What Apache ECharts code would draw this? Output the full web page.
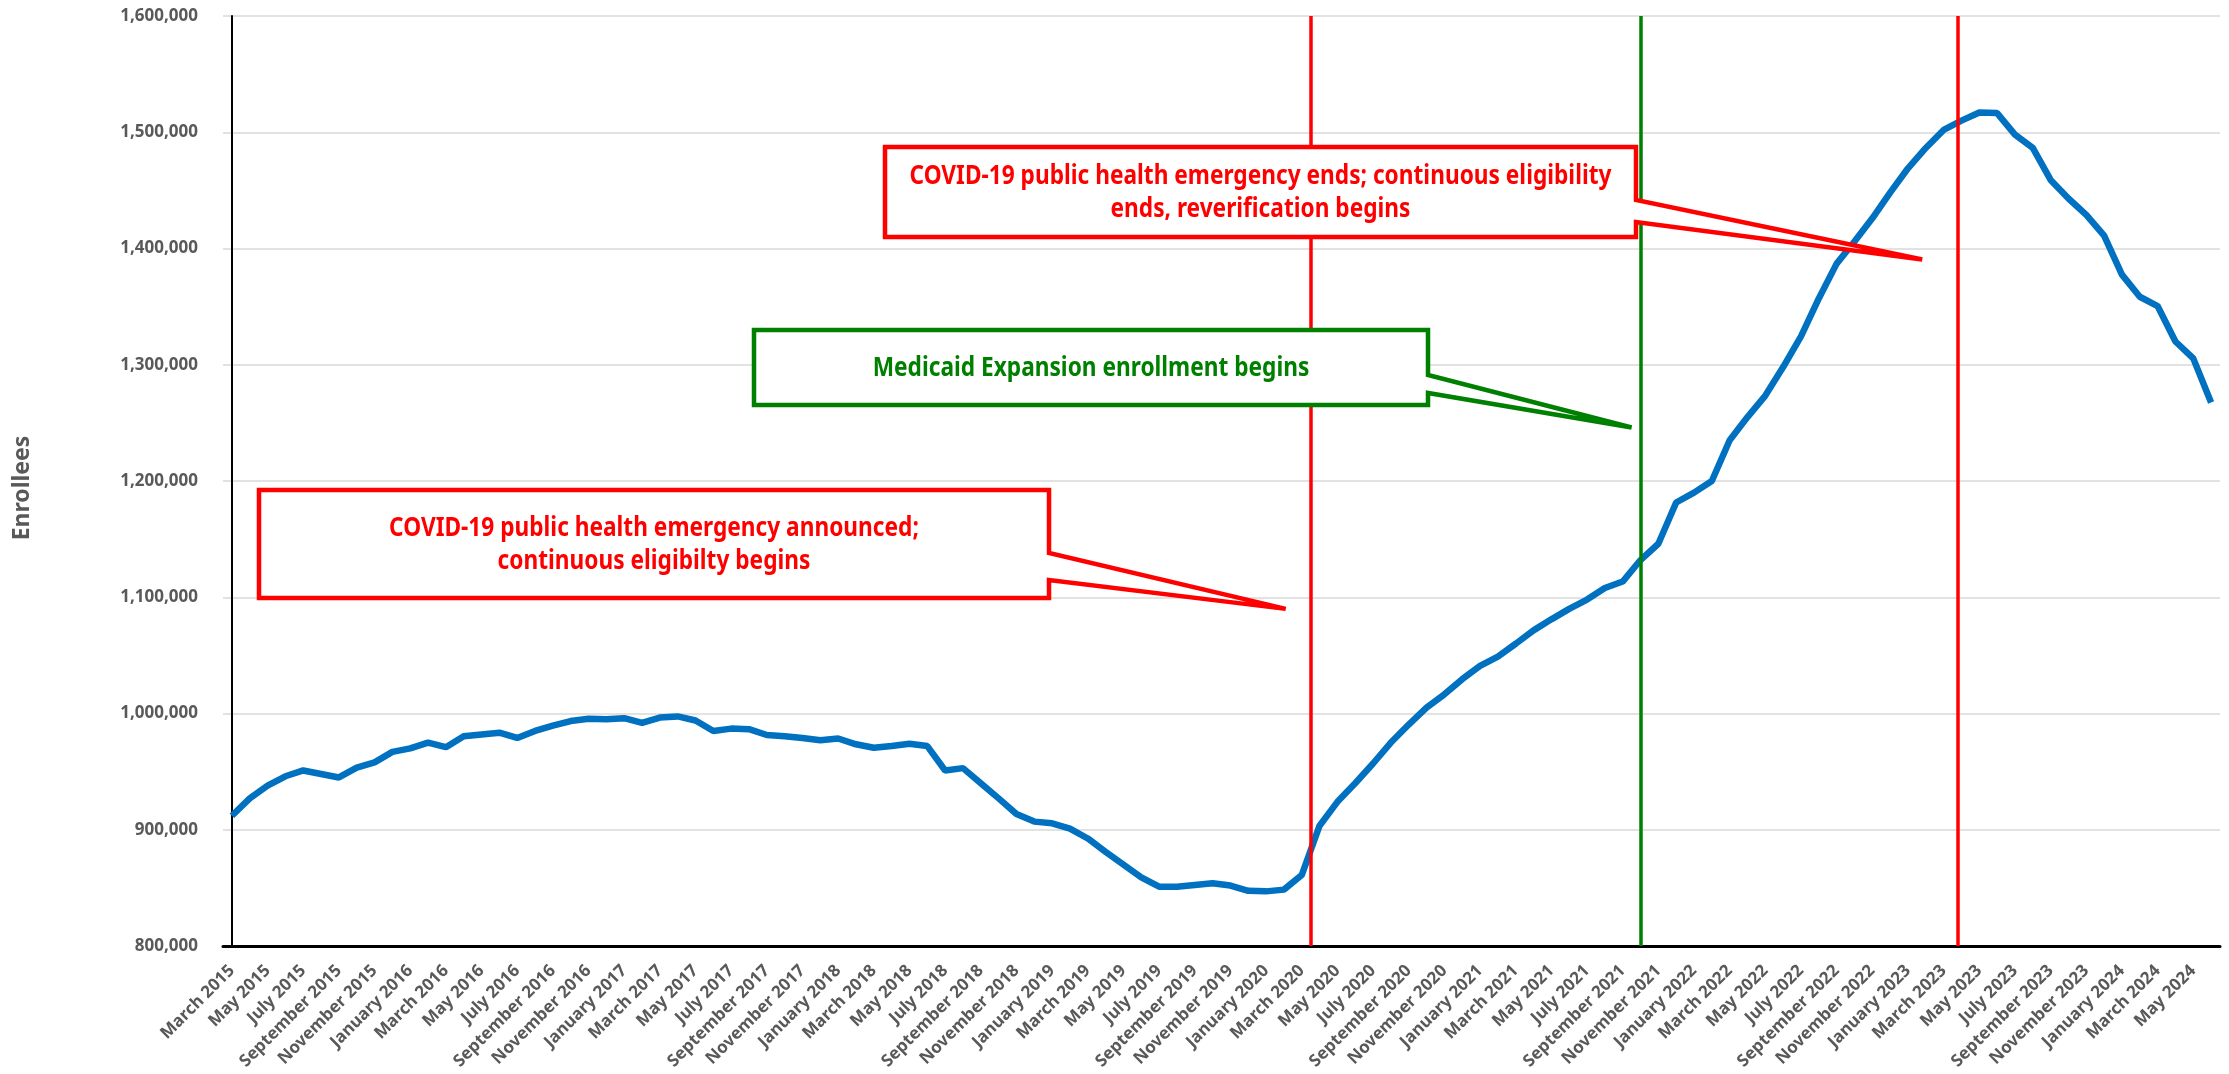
<!DOCTYPE html>
<html>
<head>
<meta charset="utf-8">
<title>Enrollees</title>
<script src="https://cdn.jsdelivr.net/npm/echarts@6.0.0/dist/echarts.min.js"></script>
<style>
  html, body { margin: 0; padding: 0; background: #fff; }
  #chart { width: 2229px; height: 1074px; }
</style>
</head>
<body>
<div id="chart"></div>
<script>
const monthNames = ['January', 'February', 'March', 'April', 'May', 'June', 'July',
  'August', 'September', 'October', 'November', 'December']
const startYear = 2015
const startMonth = 2 // March

// monthly enrollees, March 2015 .. June 2024
const enrollees = [
  912000, 927000, 938000, 946000, 951000, 948000, 945000, 953500, 958000, 967000,
  970000, 975000, 971000, 980500, 982000, 983500, 979000, 985000, 989500, 993500,
  995500, 995000, 996000, 992000, 996500, 997500, 994000, 985000, 987000, 986500,
  981500, 980500, 979000, 977000, 978500, 973500, 970500, 972000, 974000, 972000,
  951000, 953000, 940000, 927000, 913500, 907000, 905500, 901000, 892500, 881000,
  870000, 859000, 851000, 851000, 852500, 854000, 852000, 847500, 847000, 848500,
  861000, 903500, 924000, 940000, 957000, 975000, 990500, 1005000, 1016500, 1029500,
  1041000, 1049000, 1060000, 1071500, 1081000, 1090000, 1098000, 1108000, 1113500, 1132000,
  1146000, 1181500, 1190000, 1200000, 1235000, 1255000, 1273500, 1298000, 1324500, 1357000,
  1387000, 1406000, 1426000, 1448000, 1469000, 1486500, 1502000, 1510000, 1517000, 1516500,
  1498000, 1486500, 1459000, 1443000, 1429000, 1411000, 1377500, 1358500, 1350500, 1320000,
  1305500, 1267500
]

const categories = enrollees.map((_, i) => {
  const m = startMonth + i
  return monthNames[m % 12] + ' ' + (startYear + Math.floor(m / 12))
})

const yMin = 800000
const yMax = 1600000
const yStep = 100000

// event markers, position in months since March 2015
const eventAt = [60.5, 79, 96.8]
const eventColor = ['#FF0000', '#008000', '#FF0000']

// callouts: text, colour, and the point the pointer aims at (month index, enrollees)
const calloutText = [
  'COVID-19 public health emergency announced;\ncontinuous eligibilty begins',
  'Medicaid Expansion enrollment begins',
  'COVID-19 public health emergency ends; continuous eligibility\nends, reverification begins'
]
const calloutColor = ['#FF0000', '#008000', '#FF0000']
const calloutTip = [[59.1, 1090000], [78.5, 1246000], [94.8, 1390500]]

// callout box layout in pixels: [left, top, right, bottom] and neck [top, bottom] on right edge
const calloutBox = [[259, 490, 1049, 598], [754, 330, 1428, 405], [885, 147, 1636, 237]]
const calloutNeck = [[553, 580], [375, 393], [200, 222]]

const fmt = v => v.toLocaleString('en-US')
const gray = '#595959'

const chart = echarts.init(document.getElementById('chart'))

chart.setOption({
  animation: false,
  backgroundColor: '#fff',
  grid: { left: 223, right: 9, top: 16, bottom: 128 },
  xAxis: [{
    type: 'category',
    data: categories,
    boundaryGap: true,
    axisLine: { show: true, lineStyle: { color: '#000', width: 3 } },
    axisTick: { show: false },
    axisLabel: {
      interval: 1,
      rotate: 45,
      margin: 22,
      color: gray,
      fontFamily: 'Noto Sans',
      fontWeight: 'bold',
      fontSize: 17
    },
    splitLine: { show: false }
  }, {
    type: 'value',
    min: -0.5,
    max: enrollees.length - 0.5,
    show: false
  }],
  yAxis: {
    type: 'value',
    min: yMin,
    max: yMax,
    interval: yStep,
    axisLine: { show: true, lineStyle: { color: '#000', width: 2 } },
    axisTick: { show: false },
    axisLabel: {
      formatter: fmt,
      margin: 25,
      color: gray,
      fontFamily: 'Noto Sans',
      fontWeight: 'bold',
      fontSize: 17
    },
    splitLine: { lineStyle: { color: '#D9D9D9', width: 1.5 } }
  },
  series: [{
    name: 'Enrollees',
    type: 'line',
    data: enrollees,
    showSymbol: false,
    lineStyle: { color: '#0070C0', width: 6.5 },
    z: 2
  }, {
    name: 'events',
    type: 'line',
    xAxisIndex: 1,
    data: [],
    z: 3,
    markLine: {
      silent: true,
      symbol: 'none',
      label: { show: false },
      data: eventAt.map((x, i) => ({
        xAxis: x,
        lineStyle: { color: eventColor[i], width: 3.5, type: 'solid' }
      }))
    }
  }]
})

// callout shapes with pointers aimed at data points
const elements = []
calloutText.forEach((text, i) => {
  const [x0, y0, x1, y1] = calloutBox[i]
  const [na, nb] = calloutNeck[i]
  const tip = chart.convertToPixel({ seriesIndex: 1 }, calloutTip[i])
  elements.push({
    type: 'polygon',
    z: 100,
    shape: { points: [[x0, y0], [x1, y0], [x1, na], tip, [x1, nb], [x1, y1], [x0, y1]] },
    style: { fill: '#fff', stroke: calloutColor[i], lineWidth: 4.5, lineJoin: 'miter' }
  })
  // narrow the text a little to get the proportions of the original typeface
  elements.push({
    type: 'text',
    z: 101,
    x: (x0 + x1) / 2,
    y: (y0 + y1) / 2 + 1,
    scaleX: 0.84,
    style: {
      text: text,
      fill: calloutColor[i],
      font: "bold 27px 'Noto Sans', sans-serif",
      lineHeight: 33,
      textAlign: 'center',
      textVerticalAlign: 'middle'
    }
  })
})
elements.push({
  type: 'text',
  z: 101,
  x: 22,
  y: 488,
  rotation: Math.PI / 2,
  style: {
    text: 'Enrollees',
    fill: gray,
    font: "bold 23px 'Noto Sans', sans-serif",
    textAlign: 'center',
    textVerticalAlign: 'middle'
  }
})
chart.setOption({ graphic: { elements: elements } })
</script>
</body>
</html>
